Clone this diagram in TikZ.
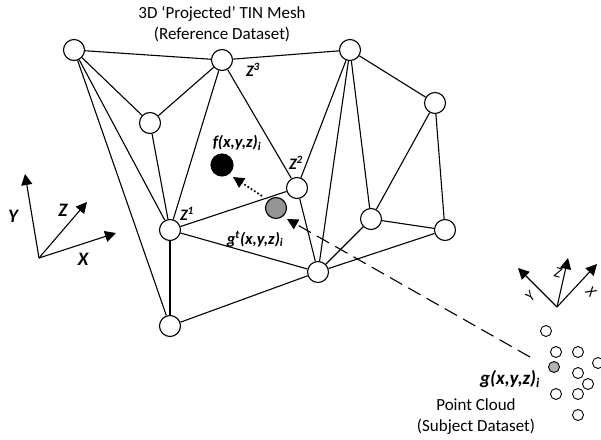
\documentclass[tikz,border=0pt]{standalone}
\usepackage{fontspec}
\setmainfont{Carlito}
\usetikzlibrary{arrows.meta}
\tikzset{
  x=1pt,y=-1pt,
  vertex/.style={circle,draw=black,fill=white,line width=1.1pt,minimum size=21pt,inner sep=0pt},
  dotnode/.style={circle,draw=black,fill=white,line width=0.9pt,minimum size=11pt,inner sep=0pt},
  edge/.style={line width=1.1pt,draw=black},
  axis/.style={line width=1.1pt,-{Triangle[length=11pt,width=11pt]}},
  caption/.style={font=\fontsize{17pt}{21pt}\selectfont,inner sep=0pt,align=center},
  mathlab/.style={font=\fontsize{16.5pt}{18pt}\selectfont\bfseries\itshape,inner sep=0pt},
  biglab/.style={font=\fontsize{19pt}{21pt}\selectfont\bfseries\itshape,inner sep=0pt},
  zlab/.style={font=\fontsize{16pt}{18pt}\selectfont\bfseries\itshape,inner sep=0pt},
  axlab/.style={font=\fontsize{19pt}{21pt}\selectfont\bfseries\itshape,inner sep=0pt},
  smallax/.style={font=\fontsize{15pt}{17pt}\selectfont\itshape,inner sep=0pt}
}
\begin{document}
\begin{tikzpicture}
\useasboundingbox (0,0) rectangle (601,439);
% mesh vertices
\node[vertex] (A) at (74,50) {};
\node[vertex] (B) at (222,60) {};
\node[vertex] (C) at (350,50) {};
\node[vertex] (D) at (150,123) {};
\node[vertex] (E) at (170,230) {};
\node[vertex] (F) at (297,188) {};
\node[vertex] (G) at (318,272) {};
\node[vertex] (H) at (435,103) {};
\node[vertex] (I) at (371,219) {};
\node[vertex] (J) at (445,230) {};
\node[vertex] (K) at (170,326) {};
% mesh edges
\foreach \p/\q in {A/B,B/C,C/H,A/D,D/B,B/E,D/E,A/E,A/K,B/F,E/F,E/G,K/G,F/G,F/C,C/G,C/I,H/I,H/J,I/J,I/G,J/G}
  \draw[edge] (\p) -- (\q);
\draw[edge,line width=1.7pt] (E) -- (K);
% points
\node[vertex,fill=black,minimum size=22pt] (f) at (222,165) {};
\node[vertex,fill=black!42,minimum size=21pt] (gt) at (276,208) {};
\coordinate (dashstart) at (530,357);
\coordinate (dotstart) at (262,196);
\coordinate (dottip) at (233,177);
\coordinate (dashtip) at (287,219);
\draw[line width=1.7pt,dash pattern=on 1.7pt off 2.2pt,-{Triangle[length=11pt,width=11pt]}] (dotstart) -- (dottip);
\draw[line width=1.1pt,dash pattern=on 14pt off 7pt,-{Triangle[length=11pt,width=11pt]}] (dashstart) -- (dashtip);
% cloud
\node[dotnode] (c1) at (546,331) {};
\node[dotnode] (c2) at (556,352) {};
\node[dotnode] (c3) at (578,352) {};
\node[dotnode] (c4) at (598,363) {};
\node[dotnode,fill=black!30] (c5) at (554,367) {};
\node[dotnode] (c6) at (578,373) {};
\node[dotnode] (c7) at (588,384) {};
\node[dotnode] (c8) at (556,394) {};
\node[dotnode] (c9) at (578,394) {};
\node[dotnode] (c10) at (578,415) {};
% left axes
\coordinate (o1) at (39,258);
\coordinate (y1) at (25,174);
\coordinate (z1) at (87,202);
\coordinate (x1) at (116,233);
\draw[axis] (o1) -- (y1);
\draw[axis] (o1) -- (z1);
\draw[axis] (o1) -- (x1);
\node[axlab] (ly) at (13,216) {Y};
\node[axlab] (lz) at (63,210) {Z};
\node[axlab] (lx) at (83,259) {X};
% right axes
\coordinate (o2) at (557,307);
\coordinate (y2) at (518,268);
\coordinate (z2) at (568,258);
\coordinate (x2) at (597,264);
\draw[axis] (o2) -- (y2);
\draw[axis] (o2) -- (z2);
\draw[axis] (o2) -- (x2);
\node[smallax,rotate=45] (sy) at (530,297) {Y};
\node[smallax,rotate=-15] (sz) at (558,273) {Z};
\node[smallax,rotate=-45] (sx) at (591,292) {X};
% labels
\node[caption] (title) at (222,24.5) {3D ‘Projected’ TIN Mesh\\(Reference Dataset)};
\node[caption] (pc) at (476,417) {Point Cloud\\(Subject Dataset)};
\node[zlab] (z3) at (253,70) {Z\textsuperscript{3}};
\node[zlab] (z2l) at (296,163) {Z\textsuperscript{2}};
\node[zlab] (z1l) at (187,214) {Z\textsuperscript{1}};
\node[mathlab] (fl) at (237,143) {f(x,y,z)\textsubscript{i}};
\node[mathlab] (gtl) at (255,239) {g\textsuperscript{t}(x,y,z)\textsubscript{i}};
\node[biglab] (gl) at (510,379) {g(x,y,z)\textsubscript{i}};
\end{tikzpicture}
\end{document}
